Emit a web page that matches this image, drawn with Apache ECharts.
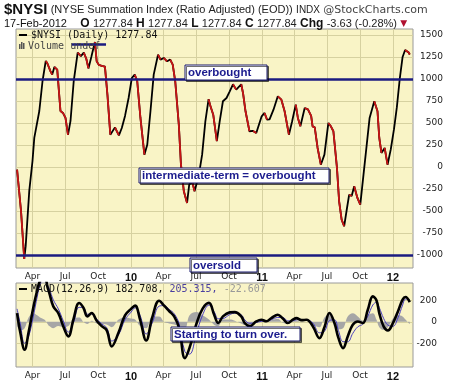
<!DOCTYPE html>
<html><head><meta charset="utf-8">
<script src="https://cdn.jsdelivr.net/npm/echarts@6/dist/echarts.min.js"></script>
<style>html,body{margin:0;padding:0;background:#fff}#c{width:460px;height:383px}</style>
</head><body><div id="c"></div>
<script>
// ---------- data ----------
const nysiDates = [
'2009-02-17','2009-02-28','2009-03-09','2009-03-13','2009-03-23','2009-04-01','2009-04-06','2009-04-20','2009-04-29','2009-05-08',
'2009-05-12','2009-05-21','2009-05-26','2009-06-01','2009-06-09','2009-06-18','2009-06-25','2009-07-02','2009-07-09','2009-07-16',
'2009-07-25','2009-08-05','2009-08-14','2009-08-22','2009-08-29','2009-09-04','2009-09-12','2009-09-22','2009-09-27','2009-10-03',
'2009-10-11','2009-10-20','2009-10-27','2009-11-04','2009-11-09','2009-11-17','2009-11-23','2009-11-28','2009-12-06','2009-12-15',
'2009-12-25','2010-01-03','2010-01-11','2010-01-18','2010-01-27','2010-02-07','2010-02-15','2010-02-24','2010-03-05','2010-03-17',
'2010-03-24','2010-04-02','2010-04-11','2010-04-20','2010-04-27','2010-05-04','2010-05-14','2010-05-20','2010-05-28','2010-06-06',
'2010-06-12','2010-06-20','2010-06-27','2010-07-09','2010-07-18','2010-07-27','2010-08-05','2010-08-09','2010-08-18','2010-08-28',
'2010-09-05','2010-09-14','2010-09-24','2010-10-03','2010-10-12','2010-10-21','2010-11-04','2010-11-09','2010-11-16','2010-11-27',
'2010-12-07','2010-12-16','2010-12-31','2011-01-08','2011-01-15','2011-01-22','2011-02-02','2011-02-14','2011-02-24','2011-03-05',
'2011-03-17','2011-03-26','2011-04-05','2011-04-11','2011-04-18','2011-04-30','2011-05-09','2011-05-18','2011-05-22','2011-05-28',
'2011-06-05','2011-06-14','2011-06-24','2011-07-05','2011-07-12','2011-07-19','2011-07-29','2011-08-04','2011-08-11','2011-08-18',
'2011-08-26','2011-09-01','2011-09-08','2011-09-15','2011-09-24','2011-10-02','2011-10-11','2011-10-20','2011-10-28','2011-11-10',
'2011-11-19','2011-11-24','2011-11-30','2011-12-09','2011-12-17','2011-12-26','2012-01-04','2012-01-12','2012-01-20','2012-01-28',
'2012-02-04','2012-02-09','2012-02-14','2012-02-17'];
const nysiValues = [
-30,-500,-1045,-900,-272,68,330,636,977,1205,
1182,1090,1050,1136,1106,636,614,557,364,523,
977,1300,1260,1300,1230,1120,1250,1420,1200,1160,
1150,1140,820,367,380,450,400,360,443,580,
784,1011,1050,977,557,140,253,636,1050,1276,
1220,1239,1201,1220,1163,974,481,26,-276,-409,
-201,-163,-276,-87,140,519,770,708,594,295,
519,747,784,860,940,879,940,841,633,406,
410,386,576,614,538,540,651,803,765,633,
367,519,708,557,462,670,655,580,462,450,
216,26,140,500,462,406,-11,-390,-599,-674,
-466,-315,-330,-219,-352,-428,-87,253,557,747,
633,330,159,216,26,200,430,680,1000,1250,
1330,1310,1300,1277.84];

const macdDates = [
'2009-02-17','2009-02-26','2009-03-10','2009-03-21','2009-04-04','2009-04-14','2009-04-22','2009-05-04','2009-05-13','2009-05-18',
'2009-05-29','2009-06-12','2009-06-26','2009-07-10','2009-07-24','2009-08-09','2009-08-21','2009-09-01','2009-09-13','2009-09-27',
'2009-10-11','2009-10-25','2009-11-08','2009-11-27','2009-12-15','2010-01-01','2010-01-12','2010-01-26','2010-02-12','2010-03-01',
'2010-03-20','2010-04-03','2010-04-17','2010-05-01','2010-05-15','2010-05-31','2010-06-13','2010-07-02','2010-07-19','2010-08-06',
'2010-08-21','2010-09-01','2010-09-14','2010-10-03','2010-10-17','2010-11-04','2010-11-14','2010-11-28','2010-12-16','2010-12-30',
'2011-01-13','2011-01-27','2011-02-14','2011-02-28','2011-03-14','2011-03-28','2011-04-07','2011-04-21','2011-05-05','2011-05-23',
'2011-06-10','2011-06-24','2011-07-08','2011-07-22','2011-08-02','2011-08-15','2011-08-28','2011-09-11','2011-09-25','2011-10-09',
'2011-10-23','2011-11-06','2011-11-16','2011-11-24','2011-12-06','2011-12-18','2012-01-01','2012-01-15','2012-01-28','2012-02-05',
'2012-02-17'];
const macdValues = [
80,-100,-260,-100,143,290,380,430,320,267,
143,80,-43,-136,20,174,130,50,81,10,
-40,-80,-229,-100,60,120,150,20,-174,40,
195,150,100,50,-60,-338,-240,-20,120,175,
60,-12,50,87,90,50,-12,-40,3,19,
5,34,65,30,-12,19,34,15,19,-43,
-152,-50,81,-12,-150,-245,-136,-28,3,-12,
112,236,200,81,-43,-81,-12,96,205,230,
182.708];
const signalValues = [
120,-20,-200,-140,63,230,340,410,340,307,
203,120,7,-96,-10,134,130,70,71,25,
-20,-55,-179,-120,20,90,130,60,-114,-10,
145,150,115,75,-20,-278,-300,-110,60,155,
90,28,30,67,80,65,18,-15,-7,4,
5,19,40,40,8,9,19,20,19,-13,
-102,-90,11,18,-80,-185,-186,-108,-47,-22,
52,156,180,131,32,-31,-42,36,155,210,
205.315];
const histValues = [
-40,-80,-60,40,80,60,40,20,-20,-40,
-60,-40,-50,-40,30,40,0,-20,10,-15,
-20,-25,-50,20,40,30,20,-40,-60,50,
50,0,-15,-25,-40,-60,60,90,60,20,
-30,-40,20,20,10,-15,-30,-25,10,15,
0,15,25,-10,-20,10,15,-5,0,-30,
-50,40,70,-30,-70,-60,50,80,50,10,
60,80,20,-50,-75,-50,30,60,50,20,
-22.607];

const mainYTicks = [-1000,-750,-500,-250,0,250,500,750,1000,1250,1500];
const macdYTicks = [-200,0,200];
const quarterTicks = ['2009-04-01','2009-07-01','2009-10-01','2010-01-01','2010-04-01','2010-07-01','2010-10-01',
  '2011-01-01','2011-04-01','2011-07-01','2011-10-01','2012-01-01'];
const monthNames = ['Jan','Feb','Mar','Apr','May','Jun','Jul','Aug','Sep','Oct','Nov','Dec'];
const refLevels = [1000, -1000];
const shortLineFrom = '2009-07-20', shortLineTo = '2009-10-23', shortLineLevel = 1390;
const lastValue = '1277.84';

// ---------- build ----------
function ts(s){ const p = s.split('-'); return Date.UTC(+p[0], +p[1]-1, +p[2]); }
const xMin = ts('2009-02-14'), xMax = ts('2012-02-26');
const xTickVals = quarterTicks.map(ts);

const mainPts = nysiDates.map((d,i)=>[ts(d), nysiValues[i]]);
const downRuns = [];
let run = null;
for (let i = 0; i < mainPts.length - 1; i++) {
  if (mainPts[i+1][1] < mainPts[i][1]) { if (!run) run = [mainPts[i]]; run.push(mainPts[i+1]); }
  else if (run) { downRuns.push(run); run = null; }
}
if (run) downRuns.push(run);

const macdPts = macdDates.map((d,i)=>[ts(d), macdValues[i]]);
const sigPts = macdDates.map((d,i)=>[ts(d), signalValues[i]]);
const histPts = macdDates.map((d,i)=>[ts(d), histValues[i]]);

const gridColor = '#d6d1a0';
const bg = '#f9f4c6';
const lblFont = 'DejaVu Sans';

function xLabel(v){
  const d = new Date(v); const m = d.getUTCMonth();
  if (m === 0) return '{y|' + String(d.getUTCFullYear()).slice(2) + '}';
  return monthNames[m];
}
function yLabel(v){ return String(Math.round(v)); }
function xAxisCfg(gi){
  return {
    type:'value', gridIndex:gi, min:xMin, max:xMax,
    axisLine:{show:false}, axisTick:{show:false, customValues:xTickVals},
    axisLabel:{customValues:xTickVals, formatter:xLabel, margin:4, color:'#222', fontFamily:lblFont, fontSize:9,
      rich:{y:{fontFamily:'Liberation Sans', fontWeight:'bold', fontSize:11, color:'#111'}}},
    splitLine:{show:true, lineStyle:{color:gridColor, width:1}}
  };
}

const series = [
  { type:'line', xAxisIndex:0, yAxisIndex:0, data:mainPts, symbol:'none', z:3,
    lineStyle:{color:'#000', width:1.8}, silent:true,
    markLine:{ silent:true, symbol:['none','none'], label:{show:false}, animation:false,
      lineStyle:{color:'#1b1b80', width:2.6, type:'solid'},
      data: refLevels.map(v=>({yAxis:v})).concat([[{coord:[ts(shortLineFrom), shortLineLevel]},{coord:[ts(shortLineTo), shortLineLevel]}]]) } }
];
downRuns.forEach(r => series.push({ type:'line', xAxisIndex:0, yAxisIndex:0, data:r, symbol:'none', z:4,
  lineStyle:{color:'#c81414', width:1.8}, silent:true }));
series.push(
  { type:'line', xAxisIndex:1, yAxisIndex:1, data:histPts, symbol:'none', smooth:0.4, z:2,
    lineStyle:{width:0, color:'#a0a0a0'}, areaStyle:{color:'#a6a6a6', opacity:1}, silent:true },
  { type:'line', xAxisIndex:1, yAxisIndex:1, data:sigPts, symbol:'none', smooth:0.4, z:3,
    lineStyle:{width:1, color:'#4a3fc0'}, silent:true },
  { type:'line', xAxisIndex:1, yAxisIndex:1, data:macdPts, symbol:'none', smooth:0.4, z:4,
    lineStyle:{width:2.6, color:'#000'}, silent:true }
);

function box(x,y,w,h,text){
  return [
    { type:'rect', z:50, shape:{x:x, y:y, width:w, height:h},
      style:{fill:'#fff', stroke:'#1a1a6e', lineWidth:1, shadowColor:'rgba(0,0,0,0.55)', shadowOffsetX:1.5, shadowOffsetY:1.5, shadowBlur:0} },
    { type:'text', z:51, x:x+3, y:y+h/2+0.5,
      style:{text:text, fill:'#1c1c8e', font:'bold 11.5px "Liberation Sans", Arial', textVerticalAlign:'middle', textAlign:'left'} }
  ];
}

const graphics = [
  { type:'text', x:4, y:10, style:{ text:'{t|$NYSI} {s|(NYSE Summation Index (Ratio Adjusted) (EOD))} {i|INDX} {c|@StockCharts.com}',
     textVerticalAlign:'middle',
     rich:{ t:{font:'bold 15px "Liberation Sans", Arial', fill:'#111'},
            s:{font:'11px "Liberation Sans", Arial', fill:'#222'},
            i:{font:'10px "Liberation Sans", Arial', fill:'#222'},
            c:{font:'11px "DejaVu Sans"', fill:'#444'} } } },
  { type:'text', x:4, y:23.5, style:{ text:'{d|17-Feb-2012}    {b|O} {n|1277.84} {b|H} {n|1277.84} {b|L} {n|1277.84} {b|C} {n|1277.84} {b|Chg} {n|-3.63 (-0.28%)} {r|▼}',
     textVerticalAlign:'middle',
     rich:{ d:{font:'11px "Liberation Sans", Arial', fill:'#111'},
            b:{font:'bold 12px "Liberation Sans", Arial', fill:'#111'},
            n:{font:'11px "Liberation Sans", Arial', fill:'#222'},
            r:{font:'9px "DejaVu Sans"', fill:'#b01030'} } } },
  // main legend
  { type:'line', z:20, shape:{x1:19, y1:35, x2:27, y2:35}, style:{stroke:'#000', lineWidth:2} },
  { type:'text', z:20, x:31, y:35, style:{text:'$NYSI (Daily) ' + lastValue, font:'10px "DejaVu Sans Mono"', fill:'#111', textVerticalAlign:'middle'} },
  { type:'rect', z:20, shape:{x:19, y:44, width:1.5, height:5}, style:{fill:'#555'} },
  { type:'rect', z:20, shape:{x:21, y:42, width:1.5, height:7}, style:{fill:'#555'} },
  { type:'rect', z:20, shape:{x:23, y:43, width:1.5, height:6}, style:{fill:'#555'} },
  { type:'text', z:19, x:28, y:46, style:{text:'Volume undef', font:'10px "DejaVu Sans Mono"', fill:'#444', textVerticalAlign:'middle'} },
  // macd legend
  { type:'line', z:20, shape:{x1:19, y1:289, x2:27, y2:289}, style:{stroke:'#000', lineWidth:2} },
  { type:'text', z:20, x:31, y:289, style:{ text:'{a|MACD(12,26,9) ' + macdValues[macdValues.length-1] + ', }{b|' + signalValues[signalValues.length-1] + ', }{c|' + histValues[histValues.length-1] + '}',
     textVerticalAlign:'middle',
     rich:{ a:{font:'10px "DejaVu Sans Mono"', fill:'#111'}, b:{font:'10px "DejaVu Sans Mono"', fill:'#4a3fa0'}, c:{font:'10px "DejaVu Sans Mono"', fill:'#999'} } } }
].concat(
  box(185, 65, 82, 15, 'overbought'),
  box(139, 168, 190, 15, 'intermediate-term = overbought'),
  box(190, 258, 67, 14, 'oversold'),
  box(171, 327, 129, 14, 'Starting to turn over.')
);

const chart = echarts.init(document.getElementById('c'), null, {renderer:'canvas', width:460, height:383});
chart.setOption({
  animation:false,
  backgroundColor:'#fff',
  grid:[
    {left:16, right:47, top:29, height:239, show:true, backgroundColor:bg, borderColor:'#9a9a9a', borderWidth:1},
    {left:16, right:47, top:283, height:84, show:true, backgroundColor:bg, borderColor:'#9a9a9a', borderWidth:1}
  ],
  xAxis:[ xAxisCfg(0), xAxisCfg(1) ],
  yAxis:[
    { type:'value', gridIndex:0, position:'right', min:-1148, max:1568,
      axisLine:{show:false}, axisTick:{show:false, customValues:mainYTicks},
      axisLabel:{customValues:mainYTicks, formatter:yLabel, align:'right', margin:30, color:'#222', fontFamily:lblFont, fontSize:9},
      splitLine:{show:true, lineStyle:{color:gridColor, width:1}} },
    { type:'value', gridIndex:1, position:'right', min:-420, max:360,
      axisLine:{show:false}, axisTick:{show:false, customValues:macdYTicks},
      axisLabel:{customValues:macdYTicks, formatter:yLabel, align:'right', margin:24, color:'#222', fontFamily:lblFont, fontSize:9},
      splitLine:{show:true, lineStyle:{color:gridColor, width:1}} }
  ],
  series: series,
  graphic: graphics
});
</script></body></html>
